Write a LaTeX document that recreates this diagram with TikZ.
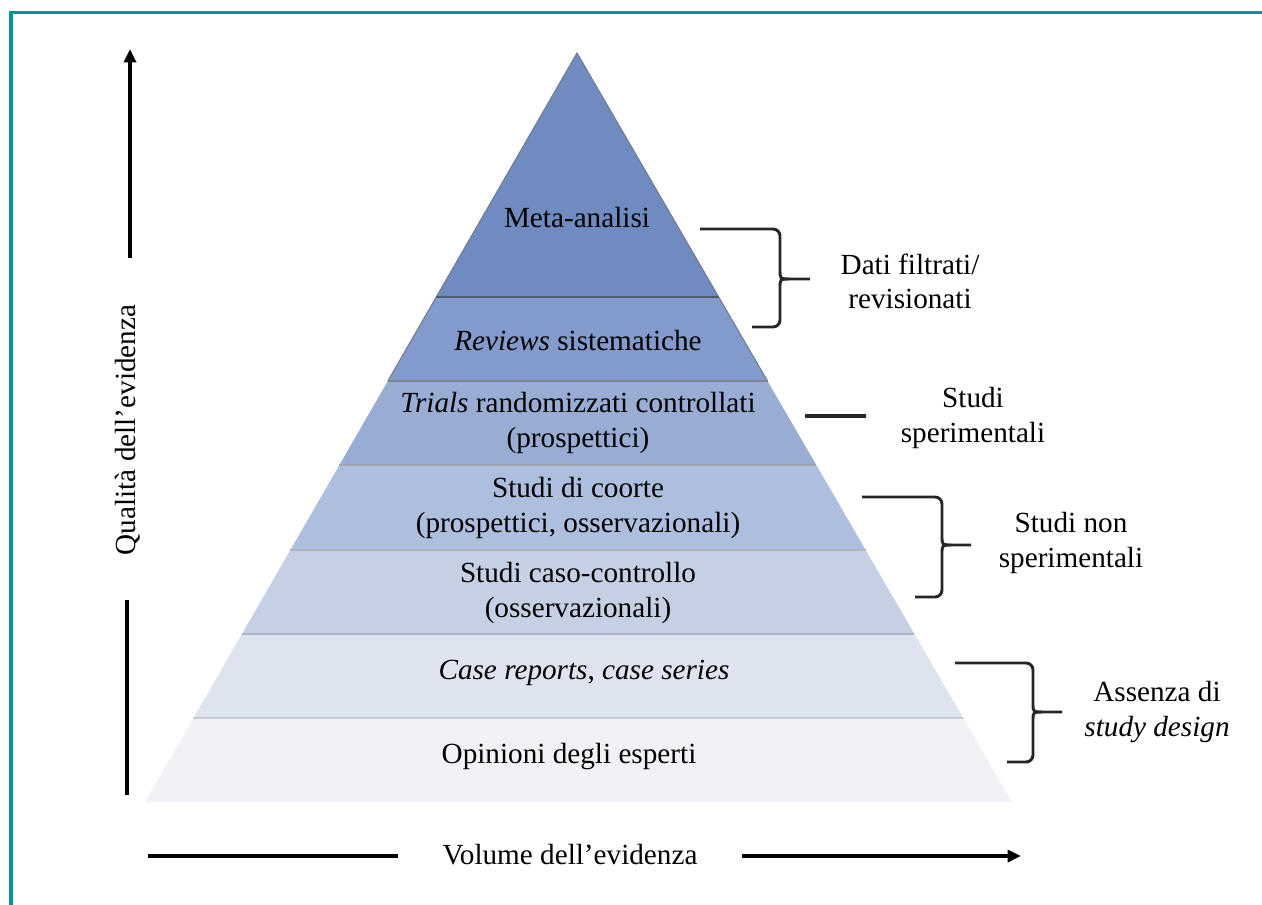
\documentclass[tikz,border=0pt]{standalone}
\usepackage{fontspec}
\setmainfont{Liberation Serif}
\usetikzlibrary{calc,arrows.meta}
\definecolor{frameteal}{RGB}{0,150,150}
\definecolor{bandA}{RGB}{111,139,191}
\definecolor{bandB}{RGB}{131,155,204}
\definecolor{bandC}{RGB}{152,172,212}
\definecolor{bandD}{RGB}{174,190,222}
\definecolor{bandE}{RGB}{198,208,229}
\definecolor{bandF}{RGB}{221,227,239}
\definecolor{bandG}{RGB}{241,242,246}
\definecolor{sepdark}{RGB}{80,92,112}
\definecolor{seplight}{RGB}{175,180,190}
\tikzset{
  lbl/.style={font=\fontsize{21.9}{25.6}\selectfont, align=center, inner sep=0pt},
  axis/.style={line width=2.5pt, black},
  axisarrow/.style={axis, -{Triangle[length=10pt,width=9pt]}},
  bracket/.style={line width=2.2pt, black!85, line join=round},
  sep/.style={line width=1.1pt}
}
\begin{document}
\begin{tikzpicture}[x=0.75pt,y=-0.75pt]
\path[use as bounding box] (0,0) rectangle (1262,905);
% frame
\draw[frameteal, line width=2.3pt] (11,905) -- (11,12.5) -- (1262,12.5);

% pyramid coordinates
\coordinate (apex) at (577,53);
\coordinate (bl) at (145,802);
\coordinate (br) at (1012,802);
\foreach \n/\t in {1/0.32577,2/0.43792,3/0.55007,4/0.66355,5/0.77570,6/0.88785}{
  \coordinate (l\n) at ($(apex)!\t!(bl)$);
  \coordinate (r\n) at ($(apex)!\t!(br)$);
}
% bands
\fill[bandA] (apex) -- (l1) -- (r1) -- cycle;
\fill[bandB] (l1) -- (l2) -- (r2) -- (r1) -- cycle;
\fill[bandC] (l2) -- (l3) -- (r3) -- (r2) -- cycle;
\fill[bandD] (l3) -- (l4) -- (r4) -- (r3) -- cycle;
\fill[bandE] (l4) -- (l5) -- (r5) -- (r4) -- cycle;
\fill[bandF] (l5) -- (l6) -- (r6) -- (r5) -- cycle;
\fill[bandG] (l6) -- (bl) -- (br) -- (r6) -- cycle;
% outlines and separators
\draw[sepdark!80, line width=0.8pt] (l2) -- (l1) -- (apex) -- (r1) -- (r2);
\draw[sep, sepdark] (l1) -- (r1);
\draw[sep, sepdark!75] (l2) -- (r2);
\draw[sep, sepdark!55] (l3) -- (r3);
\draw[sep, seplight] (l4) -- (r4);
\draw[sep, seplight] (l5) -- (r5);
\draw[sep, seplight!70] (l6) -- (r6);

% band labels
\node[lbl] (meta) at (577,218) {Meta-analisi};
\node[lbl] (rev) at (578,341) {\textit{Reviews} sistematiche};
\node[lbl] (rct) at (578,423) {\textit{Trials} randomizzati controllati\\(prospettici)};
\node[lbl] (coh) at (578,508) {Studi di coorte\\(prospettici, osservazionali)};
\node[lbl] (cc) at (578,593) {Studi caso-controllo\\(osservazionali)};
\node[lbl] (cr) at (584,673) {\textit{Case reports}, \textit{case series}};
\node[lbl] (op) at (569,757) {Opinioni degli esperti};

% right labels
\node[lbl] (filt) at (910,281) {Dati filtrati/\\revisionati};
\node[lbl] (sper) at (973,418) {Studi\\sperimentali};
\node[lbl] (nonsper) at (1071,543) {Studi non\\sperimentali};
\node[lbl] (nodes) at (1157,712) {Assenza di\\\textit{study design}};

% brackets
\coordinate (b1t) at (700,229); \coordinate (b1b) at (752,327); \coordinate (b1m) at (810,279);
\draw[bracket] (b1t) -- (773,229) to[out=0,in=90] (780,236) -- (780,270)
  .. controls (780,279) .. (789,279) -- (b1m);
\draw[bracket] (b1b) -- (773,327) to[out=0,in=-90] (780,320) -- (780,288)
  .. controls (780,279) .. (789,279);
\coordinate (b2a) at (805,416); \coordinate (b2b) at (866,416);
\draw[bracket, line width=2.5pt] (b2a) -- (b2b);
\coordinate (b3t) at (862,497); \coordinate (b3b) at (915,597); \coordinate (b3m) at (971,545);
\draw[bracket] (b3t) -- (935,497) to[out=0,in=90] (942,504) -- (942,536)
  .. controls (942,545) .. (951,545) -- (b3m);
\draw[bracket] (b3b) -- (935,597) to[out=0,in=-90] (942,590) -- (942,554)
  .. controls (942,545) .. (951,545);
\coordinate (b4t) at (955,663); \coordinate (b4b) at (1007,762); \coordinate (b4m) at (1062,712);
\draw[bracket] (b4t) -- (1026,663) to[out=0,in=90] (1033,670) -- (1033,703)
  .. controls (1033,712) .. (1042,712) -- (b4m);
\draw[bracket] (b4b) -- (1026,762) to[out=0,in=-90] (1033,755) -- (1033,721)
  .. controls (1033,712) .. (1042,712);

% quality axis
\node[lbl, rotate=90] (qual) at (128,430) {Qualità dell’evidenza};
\coordinate (qtop) at (130,49);
\coordinate (qup) at (130,258);
\coordinate (qlow) at (127,600);
\coordinate (qbot) at (127,795);
\draw[axisarrow] (qup) -- (qtop);
\draw[axis] (qlow) -- (qbot);

% volume axis
\node[lbl] (vol) at (570,855) {Volume dell’evidenza};
\coordinate (vleft) at (148,856);
\coordinate (vl2) at (398,856);
\coordinate (vr1) at (742,856);
\coordinate (vright) at (1021,856);
\draw[axis] (vleft) -- (vl2);
\draw[axisarrow] (vr1) -- (vright);
\end{tikzpicture}
\end{document}
